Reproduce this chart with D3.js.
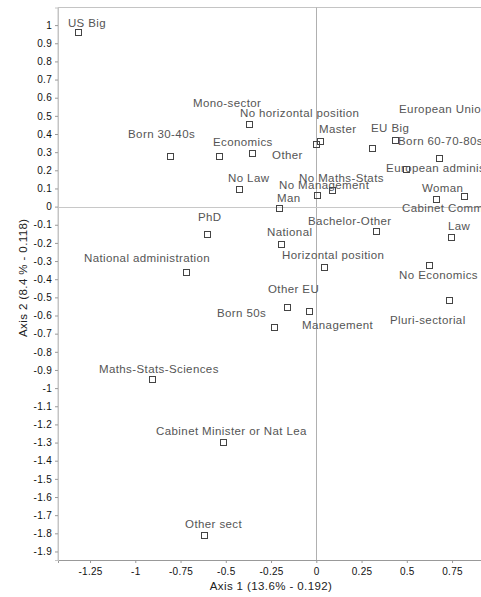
<!DOCTYPE html>
<html>

<head>
    <meta charset="utf-8">
    <style>
        body {
            margin: 0;
            background: white;
        }

        svg {
            display: block;
            font-family: 'Liberation Sans', Arial, sans-serif;
        }

        .pt-label {
            font-size: 11.5px;
            letter-spacing: 0.4px;
            fill: #555;
        }

        .tick text {
            font-size: 10px;
            letter-spacing: 0.3px;
            fill: #111;
        }

        .axis-title {
            font-size: 11.5px;
            letter-spacing: 0.4px;
            fill: #222;
        }
    </style>
</head>

<body>
    <svg width="481" height="597"></svg>
</body>

<script src="https://d3js.org/d3.v7.min.js"></script>

<script>
    // modalities and their coordinates on the two first axes
    let names = ["US Big", "Born 30-40s", "Economics", "Mono-sector", "Other", "No Law",
        "Master", "No horizontal position", "No Management", "No Maths-Stats", "Man",
        "EU Big", "Born 60-70-80s", "European Union", "European administration", "Woman",
        "Cabinet Commission", "Law", "Bachelor-Other", "National", "Horizontal position",
        "No Economics", "Pluri-sectorial", "Other EU", "Management", "Born 50s", "PhD",
        "National administration", "Maths-Stats-Sciences", "Cabinet Minister or Nat Lea", "Other sect"]

    let axis1 = [-1.317, -0.808, -0.538, -0.372, -0.355, -0.427,
        0.020, -0.002, 0.004, 0.087, -0.206,
        0.308, 0.435, 0.678, 0.496, 0.661,
        0.816, 0.744, 0.330, -0.195, 0.043,
        0.623, 0.733, -0.162, -0.040, -0.234, -0.604,
        -0.720, -0.908, -0.515, -0.620]

    let axis2 = [0.962, 0.279, 0.279, 0.455, 0.296, 0.097,
        0.362, 0.345, 0.064, 0.092, -0.007,
        0.323, 0.367, 0.268, 0.208, 0.042,
        0.059, -0.167, -0.134, -0.205, -0.332,
        -0.321, -0.514, -0.552, -0.574, -0.662, -0.150,
        -0.360, -0.949, -1.296, -1.808]

    // tick values
    let xTicks = [-1.25, -1, -0.75, -0.5, -0.25, 0, 0.25, 0.5, 0.75]
    let yTicks = d3.range(-19, 11).map(d => d / 10)

    // visible range of each axis
    let xExtent = [-1.427, 0.9265]
    let yExtent = [-1.947, 1.097]

    // where the plotting program put each label, relative to its point (px)
    let labelShift = [[-10, -5], [-42, -18], [-6, -10], [-56, -17], [20, 6], [-11, -7],
        [-1, -8], [-76, -27], [-38, -6], [-33, -8], [-2, -6],
        [-1, -16], [3, 5], [-40, -45], [-20, 3], [-14, -7],
        [-62, 16], [-3, -7], [-68, -6], [-14, -8], [-42, -8],
        [-30, 14], [-59, 24], [-19, -14], [-7, 18], [-57, -10], [-9, -13],
        [-102, -10], [-53, -6], [-67, -7], [-19, -7]]

    let mLeft = 58, mTop = 7.5, mBottom = 560, mRight = 484

    let svg = d3.select("svg")

    let x = d3.scaleLinear().domain(xExtent).range([mLeft, mRight])
    let y = d3.scaleLinear().domain(yExtent).range([mBottom, mTop])

    let fmt = d => String(+d.toFixed(2))

    // frame
    svg.append("path")
        .attr("d", `M${mLeft},${mBottom} V${mTop} H${mRight + 5}`)
        .style("fill", "none")
        .style("stroke", "#c4c4c4")

    // zero lines
    svg.append("line")
        .attr("x1", Math.round(x(0)) + 0.5).attr("x2", Math.round(x(0)) + 0.5)
        .attr("y1", mTop).attr("y2", mBottom)
        .style("stroke", "#b0b0b0")
    svg.append("line")
        .attr("x1", mLeft).attr("x2", mRight + 5)
        .attr("y1", Math.round(y(0)) + 0.5).attr("y2", Math.round(y(0)) + 0.5)
        .style("stroke", "#c8c8c8")

    // axes
    let xAxis = svg.append("g")
        .attr("transform", `translate(0,${mBottom})`)
        .call(d3.axisBottom(x).tickValues(xTicks).tickFormat(fmt).tickSize(3).tickPadding(5))
    let yAxis = svg.append("g")
        .attr("transform", `translate(${mLeft},0)`)
        .call(d3.axisLeft(y).tickValues(yTicks).tickFormat(fmt).tickSize(3).tickPadding(3))

    xAxis.select(".domain").style("stroke", "#999")
    yAxis.select(".domain").style("stroke", "#c4c4c4")
    svg.selectAll(".tick line").style("stroke", "#999")
    svg.selectAll(".tick text").attr("font-family", null).attr("font-size", null)

    svg.append("text")
        .attr("class", "axis-title")
        .attr("x", (mLeft + mRight) / 2)
        .attr("y", 590)
        .attr("text-anchor", "middle")
        .text("Axis 1 (13.6% - 0.192)")

    svg.append("text")
        .attr("class", "axis-title")
        .attr("transform", `translate(27,${(mTop + mBottom) / 2 - 6}) rotate(-90)`)
        .attr("text-anchor", "middle")
        .text("Axis 2 (8.4 % - 0.118)")

    // points
    let pts = names.map((n, i) => ({ name: n, a1: axis1[i], a2: axis2[i], shift: labelShift[i] }))

    svg.append("g")
        .selectAll("rect")
        .data(pts)
        .join("rect")
        .attr("x", d => Math.round(x(d.a1)) - 3 + 0.5)
        .attr("y", d => Math.round(y(d.a2)) - 3 + 0.5)
        .attr("width", 6)
        .attr("height", 6)
        .style("fill", "none")
        .style("stroke", "#444")

    svg.append("g")
        .selectAll("text")
        .data(pts)
        .join("text")
        .attr("class", "pt-label")
        .attr("x", d => x(d.a1) + d.shift[0])
        .attr("y", d => y(d.a2) + d.shift[1])
        .text(d => d.name)
</script>

</html>
